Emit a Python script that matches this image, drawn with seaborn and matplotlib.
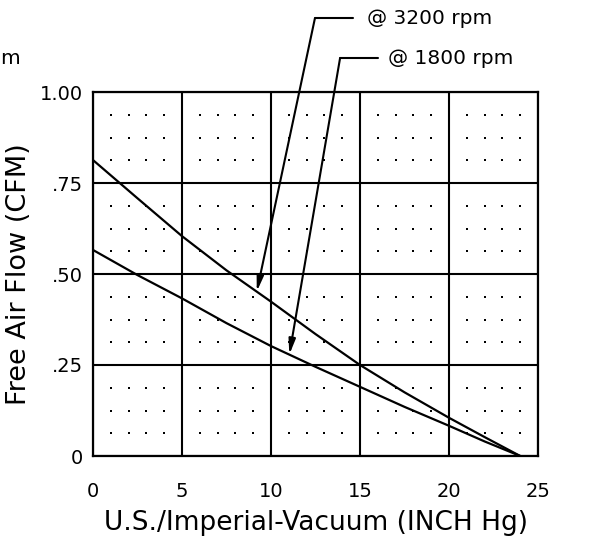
import numpy as np
import pandas as pd
import matplotlib
matplotlib.use("Agg")
import matplotlib.pyplot as plt
import seaborn as sns

# ---- data ----
vacuum = [0, 2.5, 5, 7.5, 10, 12.5, 15, 17.5, 20, 22, 24]
flow_3200 = [0.813, 0.708, 0.604, 0.51, 0.424, 0.335, 0.25, 0.175, 0.105, 0.052, 0.0]
flow_1800 = [0.566, 0.497, 0.433, 0.365, 0.302, 0.245, 0.19, 0.135, 0.083, 0.04, 0.0]
series_names = ["@ 3200 rpm", "@ 1800 rpm"]
x_ticks = [0, 5, 10, 15, 20, 25]
x_tick_labels = ["0", "5", "10", "15", "20", "25"]
y_ticks = [0, 0.25, 0.5, 0.75, 1.0]
y_tick_labels = ["0", ".25", ".50", ".75", "1.00"]

df = pd.DataFrame({
    "vacuum": vacuum * 2,
    "flow": flow_3200 + flow_1800,
    "series": [series_names[0]] * len(vacuum) + [series_names[1]] * len(vacuum),
})

sns.set_style("white")
plt.rcParams["font.family"] = ["DejaVu Sans"]
plt.rcParams["text.color"] = "black"
plt.rcParams["axes.labelcolor"] = "black"
plt.rcParams["xtick.color"] = "black"
plt.rcParams["ytick.color"] = "black"

fig = plt.figure(figsize=(6.16, 5.44), dpi=100)
ax = fig.add_axes([93 / 616, 1 - 456 / 544, 445 / 616, 364 / 544])

# dotted minor grid
dx = [v for v in range(1, 25) if v % 5 != 0]
dy = [k * 0.0625 for k in range(1, 16) if k % 4 != 0]
gx, gy = np.meshgrid(dx, dy)
ax.scatter(gx.ravel(), gy.ravel(), s=1.8, c="black", marker="s", linewidths=0, zorder=1)

sns.lineplot(data=df, x="vacuum", y="flow", hue="series",
             palette=["black", "black"], linewidth=1.6, legend=False, ax=ax, zorder=3)

ax.set_xlim(0, 25)
ax.set_ylim(0, 1.0)
ax.set_xticks(x_ticks)
ax.set_xticklabels(x_tick_labels)
ax.set_yticks(y_ticks)
ax.set_yticklabels(y_tick_labels)
ax.grid(True, color="black", linewidth=1.5, zorder=2)
ax.set_axisbelow(False)
for s in ax.spines.values():
    s.set_color("black")
    s.set_linewidth(1.6)
ax.tick_params(axis="x", length=0, pad=19, labelsize=14, colors="black")
ax.tick_params(axis="y", length=0, pad=7, labelsize=14, colors="black")
ax.set_xlabel("U.S./Imperial-Vacuum (INCH Hg)", fontsize=19, labelpad=6, color="black")
ax.set_ylabel("Free Air Flow (CFM)", fontsize=19.5, labelpad=6, color="black")

# annotations
ann = [
    (series_names[0], flow_3200, 9.2, 12.47, 1.203, 14.6, 15.4),
    (series_names[1], flow_1800, 11.03, 13.88, 1.093, 16.0, 16.57),
]
for label, ys, tipx, ex, ey, hx, tx in ann:
    tipy = float(np.interp(tipx, vacuum, ys))
    ax.annotate("", xy=(tipx, tipy), xytext=(ex, ey), annotation_clip=False,
                arrowprops=dict(arrowstyle="-|>,head_length=0.9,head_width=0.2",
                                color="black", lw=1.5, shrinkA=0, shrinkB=0))
    ax.plot([ex, hx], [ey, ey], color="black", lw=1.5, clip_on=False)
    ax.text(tx, ey, label, fontsize=14.5, ha="left", va="center", clip_on=False, color="black")

fig.text(0.0, 1 - 58 / 544, "m", fontsize=14.5, ha="left", va="center", color="black")

fig.savefig("out.png", dpi=100)
